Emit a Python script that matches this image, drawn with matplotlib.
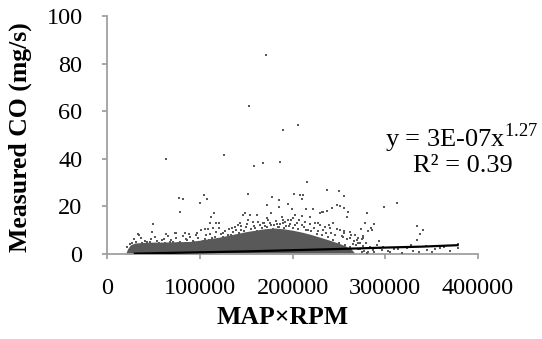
import matplotlib
matplotlib.use("Agg")
import matplotlib.pyplot as plt
import numpy as np

# ======================================================
# Setup
# ======================================================

FIGSIZE = (5.42, 3.39)
DPI = 100
POINT_COLOR = "#595959"
AXIS_COLOR = "#a0a0a0"
FONT = "Liberation Serif"

plt.rcParams["font.family"] = [FONT, "DejaVu Serif"]
plt.rcParams["mathtext.fontset"] = "custom"
plt.rcParams["mathtext.rm"] = FONT

# ======================================================
# DATA (MAP×RPM in thousands, CO in mg/s)
# ======================================================

# Sparse / outlying points
outlier_x_k = [171.3, 153, 190, 206, 63.6, 126, 159, 168, 187, 215.5, 237, 250,
               255.5, 77.6, 82, 104.5, 108, 100, 78.7, 49.6, 152, 178, 185,
               201.5, 208, 211, 210, 195, 172, 185, 199, 214.5, 222, 231.7, 237,
               242.5, 248, 251, 256, 259.7, 258.6, 312.5, 299, 280, 334, 340.5,
               287.7, 278, 284.5, 273.7, 281, 285.5, 337, 334, 293, 276, 275.8,
               274.8, 269.4, 272.6, 279, 327.6, 343.7, 359, 378, 378, 313.6,
               302.8, 294, 286.6, 281, 274.8, 270.5, 280, 318, 330, 345, 350,
               370, 250, 257, 262, 265, 276, 284, 296, 305]
outlier_y = [83.6, 62, 52, 54, 40, 41.6, 37, 38.3, 38.7, 30.3, 27, 26.5,
             24.2, 23.5, 23, 24.8, 23, 21.3, 17.6, 12.6, 25.4, 23.8, 22.7,
             25.4, 24.8, 24.8, 23, 21.2, 20.6, 19.7, 18.9, 18.9, 18.9, 17.6, 18,
             19.3, 20.6, 20.2, 19.3, 17.6, 15.5, 21.6, 19.8, 17.3, 11.8, 10,
             12.6, 13, 11, 10.7, 9.7, 10, 8.4, 5.9, 5.5, 6.7, 7.6,
             6.3, 5.9, 4.6, 4.6, 3.8, 3.4, 2.7, 4.2, 2.5, 2.2,
             1.3, 2.5, 1.7, 0.8, 0.8, 2.1, 0.4, 0.4, 1.3, 1.7, 0.8,
             1.2, 4.5, 3.8, 3.0, 4.2, 3.4, 3.0, 1.7, 0.8]

# Points in the speckled band above the dense cloud
band_x_k = [115, 112, 111, 117.5, 121, 121, 114, 109, 48.5, 33.4, 63.6, 74.4,
            84, 88.4, 97, 101, 105.6, 125, 130, 135.8, 34.5, 73,
            29, 41, 46, 54, 59, 68, 71, 79, 86, 93, 98, 105.6, 113, 119.6, 125,
            132.5, 148.7, 146.5, 154, 161.6, 176.7, 202.6, 210, 200,
            152, 157, 143, 138, 135, 172, 188.6, 189.7, 195, 218.7, 229.5, 232.8,
            224, 229.5, 235, 240, 243.5, 251, 256, 262, 267, 270.5, 262, 254,
            168, 175.6, 183, 189.7, 197, 204.7, 210,
            145, 150, 160, 165, 170, 180, 185, 193, 200, 215, 220, 226, 232, 238,
            244, 142, 147, 22, 25, 38, 62, 88, 110, 27, 36,
            31, 37, 43, 47, 52, 56, 61, 66, 69, 74, 77, 82, 85, 90, 94, 96, 103,
            107, 111, 116, 118, 123, 127, 131, 134, 139, 141,
            144, 148, 151, 155, 158, 162, 163, 167, 169, 173, 174, 177, 179, 182,
            184, 187, 191, 192, 196, 198, 203, 206, 207, 212, 213, 217, 219, 223,
            227, 228, 233, 236, 239, 242, 246, 248, 253, 255, 259, 263, 266, 268,
            271, 273, 277, 283, 288, 291, 298, 309, 323, 336, 354, 363]
band_y = [17.2, 15.5, 13, 13, 13, 11, 11, 10.5, 9.2, 8.4, 8.4, 8.8,
          8.8, 8.4, 8.8, 10, 10.5, 8.8, 8, 9.2, 8, 8.8,
          6.3, 5.5, 5, 5.5, 5.9, 5, 5, 5, 5.9, 5.5, 6.7, 6.3, 6.7, 6.3, 7.1,
          7.1, 17.2, 16.4, 16.4, 16.4, 17.2, 16.4, 16, 15.1,
          14.3, 13.4, 13, 11.3, 10.9, 15.1, 15.5, 14.3, 14.3, 15.5, 17.2, 17.6,
          13, 12.2, 11.3, 10.9, 13, 10, 8.8, 9.2, 8, 6.7, 6.7, 7.1,
          13, 13, 12.6, 13, 12.6, 13, 12.2,
          10, 11.5, 11, 12, 11.8, 12, 11.2, 11.8, 11, 10, 9.5, 8.5, 8, 7,
          6, 9, 8.5, 3, 4, 4.8, 4.6, 4.8, 6, 4.6, 3.8,
          5.2, 6.8, 4.9, 6.1, 7.3, 4.8, 6.4, 7.6, 5.8, 6.9, 4.8, 7.4, 6.2, 7.0,
          5.1, 7.9, 5.4, 7.8, 8.6, 7.1, 9.4, 8.2, 9.6, 10.3, 7.8, 9.9, 12.1,
          11.6, 9.7, 12.6, 10.4, 11.9, 9.8, 13.6, 10.9, 12.9, 11.2, 14.2, 12.3,
          10.6, 13.8, 11.4, 12.8, 10.9, 13.3, 11.6, 14.1, 12.0, 10.6, 14.4,
          11.4, 13.6, 10.2, 12.4, 11.0, 9.6, 12.9, 10.2, 8.7, 12.2, 9.0, 8.1,
          10.6, 7.4, 9.6, 6.1, 7.9, 5.4, 3.6, 4.6, 2.2, 1.4, 2.6, 1.0, 3.6,
          2.9, 1.9, 2.4, 0.9, 2.0, 3.1]

# Upper edge of the solid (saturated) part of the point cloud
core_x_k = [20, 22, 25, 30, 40, 50, 60, 70, 80, 90, 100, 110, 120, 130, 140,
            150, 160, 170, 180, 190, 200, 210, 220, 230, 240, 250, 257, 263, 268]
core_top = [0, 2.0, 3.8, 4.6, 4.9, 5.0, 5.0, 5.1, 5.2, 5.3, 5.8, 6.4, 7.0, 7.8,
            8.6, 9.4, 10.0, 10.6, 10.9, 10.6, 10.0, 9.2, 8.2, 7.0, 5.8, 4.5,
            3.4, 2.2, 0]

# Power trendline as drawn in the picture
fit_x_k = [30, 60, 100, 150, 200, 250, 300, 340, 378]
fit_y = [0.15, 0.4, 0.7, 1.1, 1.6, 2.1, 2.7, 3.1, 3.7]

X_TICKS = [0, 100000, 200000, 300000, 400000]
Y_TICKS = [0, 20, 40, 60, 80, 100]

# ======================================================
# PLOT
# ======================================================

def plot_co_scatter():
    fig = plt.figure(figsize=FIGSIZE, dpi=DPI)
    ax = fig.add_axes([107 / 542, 1 - 254 / 339, 371 / 542, 238 / 339])

    ax.fill_between(np.array(core_x_k) * 1000, 0, core_top,
                    color=POINT_COLOR, linewidth=0, zorder=2)

    pts_x = np.array(outlier_x_k + band_x_k) * 1000
    pts_y = np.array(outlier_y + band_y)
    ax.scatter(pts_x, pts_y, s=3.8, marker="s", color=POINT_COLOR,
               linewidths=0, zorder=3)

    ax.plot(np.array(fit_x_k) * 1000, fit_y, color="black", lw=1.6, zorder=4)

    ax.set_xlim(0, 400000)
    ax.set_ylim(0, 100)
    ax.set_xticks(X_TICKS)
    ax.set_xticklabels([str(t) for t in X_TICKS])
    ax.set_yticks(Y_TICKS)
    ax.set_yticklabels([str(t) for t in Y_TICKS])

    for side in ["top", "right"]:
        ax.spines[side].set_visible(False)
    for side in ["left", "bottom"]:
        ax.spines[side].set_color(AXIS_COLOR)
        ax.spines[side].set_linewidth(1.3)

    ax.tick_params(axis="both", direction="out", length=3.6, width=1.3,
                   color=AXIS_COLOR, labelsize=17.5, labelcolor="black")
    ax.tick_params(axis="y", pad=14)
    ax.tick_params(axis="x", pad=14)

    fig.text(283 / 542, 1 - 317 / 339, "MAP×RPM", ha="center", va="center",
             fontsize=18.5, fontweight="bold")
    fig.text(20 / 542, 1 - 137 / 339, "Measured CO (mg/s)", ha="center",
             va="center", rotation=90, fontsize=18.5, fontweight="bold")

    fig.text(538 / 542, 1 - 138 / 339, r"y = 3E-07x$^{\mathrm{1.27}}$",
             ha="right", va="center", fontsize=19)
    fig.text(463 / 542, 1 - 166 / 339, "R² = 0.39",
             ha="center", va="center", fontsize=19)

    fig.savefig("out.png", dpi=DPI)

# ======================================================
# MAIN
# ======================================================

def main():
    plot_co_scatter()

if __name__ == "__main__":
    main()
